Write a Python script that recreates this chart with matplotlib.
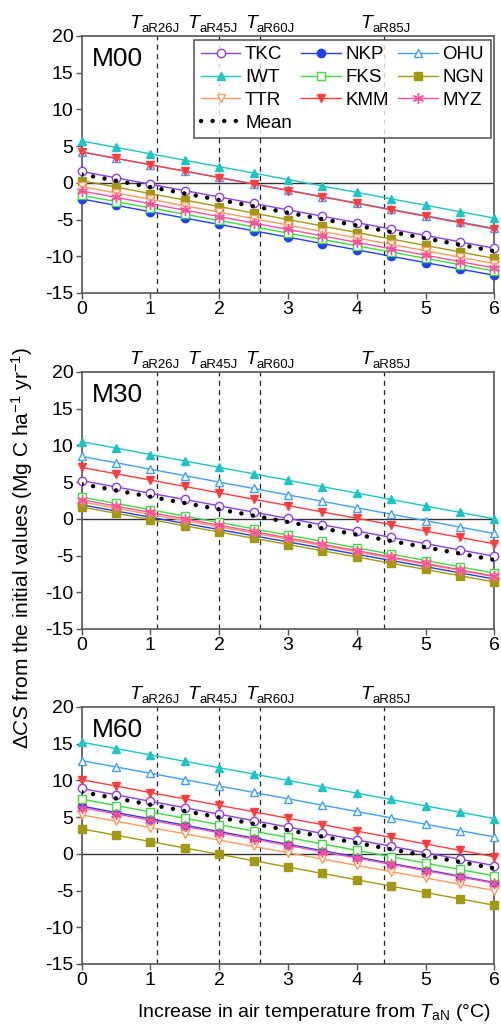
import numpy as np
import matplotlib.pyplot as plt

plt.rcParams['font.family'] = ['Liberation Sans', 'DejaVu Sans']
plt.rcParams['mathtext.fontset'] = 'custom'
plt.rcParams['mathtext.rm'] = 'Liberation Sans'
plt.rcParams['mathtext.it'] = 'Liberation Sans:italic'
plt.rcParams['axes.unicode_minus'] = False

# warming steps (deg C)
temp = [0, 0.5, 1, 1.5, 2, 2.5, 3, 3.5, 4, 4.5, 5, 5.5, 6]

# scenario thresholds
t_lines = [1.1, 2.0, 2.6, 4.4]
t_names = ['aR26J', 'aR45J', 'aR60J', 'aR85J']

sites = ['TKC', 'NKP', 'OHU', 'IWT', 'FKS', 'NGN', 'TTR', 'KMM', 'MYZ']

# M00
m00_tkc = [1.55, 0.68, -0.19, -1.06, -1.93, -2.80, -3.68, -4.55, -5.42, -6.29, -7.16, -8.03, -8.90]
m00_nkp = [-2.2, -3.07, -3.93, -4.80, -5.67, -6.53, -7.40, -8.27, -9.13, -10.00, -10.87, -11.73, -12.6]
m00_ohu = [4.2, 3.33, 2.47, 1.60, 0.73, -0.13, -1.0, -1.87, -2.73, -3.60, -4.47, -5.33, -6.2]
m00_iwt = [5.7, 4.83, 3.95, 3.08, 2.2, 1.33, 0.45, -0.43, -1.3, -2.18, -3.05, -3.93, -4.8]
m00_fks = [-1.7, -2.56, -3.42, -4.28, -5.13, -5.99, -6.85, -7.71, -8.57, -9.43, -10.28, -11.14, -12.0]
m00_ngn = [0.3, -0.58, -1.47, -2.35, -3.23, -4.12, -5.0, -5.88, -6.77, -7.65, -8.53, -9.42, -10.3]
m00_ttr = [-0.5, -1.38, -2.25, -3.13, -4.0, -4.88, -5.75, -6.63, -7.5, -8.38, -9.25, -10.13, -11.0]
m00_kmm = [4.2, 3.33, 2.45, 1.58, 0.7, -0.18, -1.05, -1.93, -2.8, -3.68, -4.55, -5.43, -6.3]
m00_myz = [-1.1, -1.98, -2.85, -3.73, -4.6, -5.48, -6.35, -7.23, -8.1, -8.98, -9.85, -10.73, -11.6]

# M30
m30_tkc = [5.2, 4.34, 3.48, 2.63, 1.77, 0.91, 0.05, -0.81, -1.67, -2.53, -3.38, -4.24, -5.1]
m30_nkp = [1.9, 1.06, 0.22, -0.63, -1.47, -2.31, -3.15, -3.99, -4.83, -5.68, -6.52, -7.36, -8.2]
m30_ohu = [8.5, 7.63, 6.75, 5.88, 5.0, 4.13, 3.25, 2.38, 1.5, 0.63, -0.25, -1.13, -2.0]
m30_iwt = [10.5, 9.63, 8.75, 7.88, 7.0, 6.13, 5.25, 4.38, 3.5, 2.63, 1.75, 0.88, 0.0]
m30_fks = [2.95, 2.09, 1.23, 0.36, -0.5, -1.36, -2.23, -3.09, -3.95, -4.81, -5.68, -6.54, -7.4]
m30_ngn = [1.6, 0.75, -0.1, -0.95, -1.8, -2.65, -3.5, -4.35, -5.2, -6.05, -6.9, -7.75, -8.6]
m30_ttr = [2.3, 1.45, 0.6, -0.25, -1.1, -1.95, -2.8, -3.65, -4.5, -5.35, -6.2, -7.05, -7.9]
m30_kmm = [7.0, 6.13, 5.27, 4.4, 3.53, 2.67, 1.8, 0.93, 0.07, -0.8, -1.67, -2.53, -3.4]
m30_myz = [2.6, 1.73, 0.87, 0.0, -0.87, -1.73, -2.6, -3.47, -4.33, -5.2, -6.07, -6.93, -7.8]

# M60
m60_tkc = [8.9, 8.03, 7.15, 6.28, 5.4, 4.53, 3.65, 2.78, 1.9, 1.03, 0.15, -0.73, -1.6]
m60_nkp = [6.5, 5.63, 4.77, 3.9, 3.03, 2.17, 1.3, 0.43, -0.43, -1.3, -2.17, -3.03, -3.9]
m60_ohu = [12.7, 11.83, 10.97, 10.1, 9.23, 8.37, 7.5, 6.63, 5.77, 4.9, 4.03, 3.17, 2.3]
m60_iwt = [15.2, 14.33, 13.47, 12.6, 11.73, 10.87, 10.0, 9.13, 8.27, 7.4, 6.53, 5.67, 4.8]
m60_fks = [7.45, 6.58, 5.71, 4.84, 3.97, 3.1, 2.23, 1.35, 0.48, -0.39, -1.26, -2.13, -3.0]
m60_ngn = [3.4, 2.53, 1.67, 0.8, -0.07, -0.93, -1.8, -2.67, -3.53, -4.4, -5.27, -6.13, -7.0]
m60_ttr = [5.3, 4.44, 3.58, 2.73, 1.87, 1.01, 0.15, -0.71, -1.57, -2.43, -3.28, -4.14, -5.0]
m60_kmm = [10.1, 9.23, 8.35, 7.48, 6.6, 5.73, 4.85, 3.98, 3.1, 2.23, 1.35, 0.48, -0.4]
m60_myz = [6.3, 5.44, 4.58, 3.73, 2.87, 2.01, 1.15, 0.29, -0.57, -1.43, -2.28, -3.14, -4.0]

panels = [
    ('M00', [m00_tkc, m00_nkp, m00_ohu, m00_iwt, m00_fks, m00_ngn, m00_ttr, m00_kmm, m00_myz]),
    ('M30', [m30_tkc, m30_nkp, m30_ohu, m30_iwt, m30_fks, m30_ngn, m30_ttr, m30_kmm, m30_myz]),
    ('M60', [m60_tkc, m60_nkp, m60_ohu, m60_iwt, m60_fks, m60_ngn, m60_ttr, m60_kmm, m60_myz]),
]

# (color, marker, filled)
styles = [
    ('#8a3ff0', 'o', False),
    ('#1f3fff', 'o', True),
    ('#3fa0ff', '^', False),
    ('#1cc4c4', '^', True),
    ('#3fdc3f', 's', False),
    ('#a39812', 's', True),
    ('#ff9a5a', 'v', False),
    ('#ff3f3f', 'v', True),
    ('#ff4fa0', (6, 2, 0), True),
]

# label nudges (points) so the close T labels don't collide
t_nudge = [-2.9, -5.8, 5.8, 0]

fig = plt.figure(figsize=(5.01, 10.36), dpi=100)
bottoms = [0.7172, 0.3929, 0.0695]
spine_col = '#555555'

for (name, series), bot in zip(panels, bottoms):
    ax = fig.add_axes([0.163, bot, 0.8236, 0.2481])
    ax.axhline(0, color='#333333', lw=1, zorder=1)
    for tv in t_lines:
        ax.axvline(tv, color='#222222', lw=0.9, ls=(0, (4, 3.5)), zorder=1)
    handles = []
    for site, ys, (c, m, filled) in zip(sites, series, styles):
        h, = ax.plot(temp, ys, color=c, lw=1.0, marker=m, ms=6 if m != (6, 2, 0) else 8,
                     mfc=c if filled else 'white', mec=c, mew=1.0,
                     label=site, clip_on=False, zorder=3)
        handles.append(h)
    mean = np.mean(np.array(series), axis=0)
    hm, = ax.plot(temp, mean, color='black', lw=3.2, ls=(0, (0.01, 2.6)),
                  dash_capstyle='round', label='Mean', zorder=4)
    handles.append(hm)

    ax.set_xlim(0, 6)
    ax.set_ylim(-15, 20)
    ax.set_xticks(range(0, 7))
    ax.set_yticks(range(-15, 21, 5))
    ax.tick_params(labelsize=14, color=spine_col, length=4, width=1, pad=2)
    for sp in ax.spines.values():
        sp.set_color(spine_col)
        sp.set_linewidth(1.2)
    ax.annotate(name, (0, 1), xycoords='axes fraction', xytext=(7, -8),
                textcoords='offset points', fontsize=19, va='top', ha='left')
    for tv, tn, dx in zip(t_lines, t_names, t_nudge):
        ax.annotate('T', (tv, 1), xycoords=('data', 'axes fraction'),
                    xytext=(dx - 8.4, 5.8), textcoords='offset points',
                    fontsize=14, style='italic', ha='right', va='baseline')
        ax.annotate(tn, (tv, 1), xycoords=('data', 'axes fraction'),
                    xytext=(dx - 8.6, 2.9), textcoords='offset points',
                    fontsize=9.5, ha='left', va='baseline')

    if name == 'M00':
        # row-wise order as in the original legend
        order = [0, 3, 6, 9, 1, 4, 7, 2, 5, 8]
        leg = ax.legend(handles=[handles[i] for i in order], ncol=3, loc='upper right',
                        fontsize=13.5, frameon=True, fancybox=False, edgecolor='#333333',
                        handlelength=2.1, handletextpad=0.25, columnspacing=0.5,
                        labelspacing=0.3, borderaxespad=0.2, borderpad=0.35)
        leg.get_frame().set_linewidth(1.2)

fig.text(0.044, 0.471, r'$\Delta\mathit{CS}$ from the initial values (Mg C ha$^{-1}$ yr$^{-1}$)',
         rotation=90, ha='center', va='center', fontsize=15,
         family=['Liberation Sans Narrow', 'Liberation Sans'])
fig.text(0.627, 0.023, r'Increase in air temperature from $\mathit{T}_{\mathrm{aN}}$ (°C)',
         ha='center', va='center', fontsize=14)

fig.savefig('out.png', dpi=100)
